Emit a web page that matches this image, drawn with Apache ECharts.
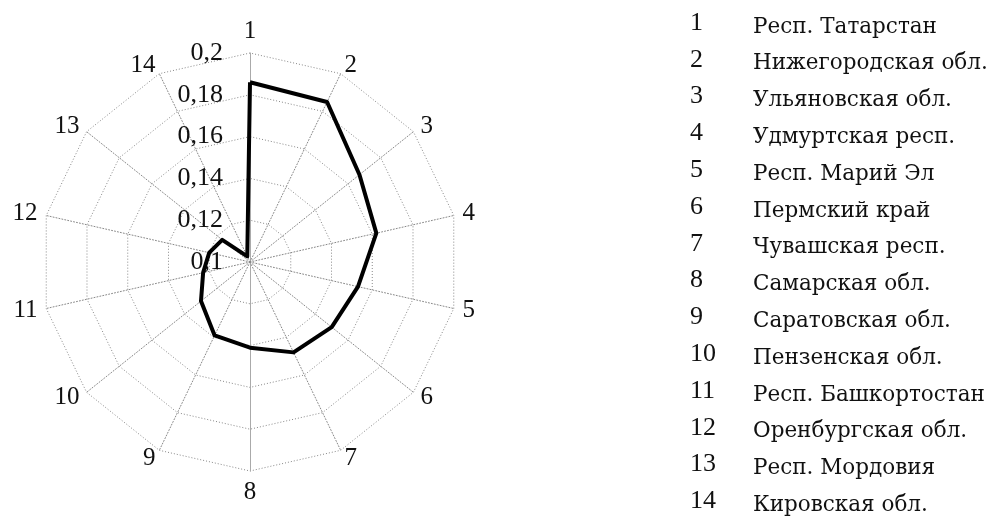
<!DOCTYPE html>
<html>
<head>
<meta charset="utf-8">
<script src="https://cdn.jsdelivr.net/npm/echarts@6/dist/echarts.min.js"></script>
<style>
  html, body { margin: 0; padding: 0; background: #fff; }
  #main { width: 990px; height: 521px; }
</style>
</head>
<body>
<div id="main"></div>
<script>
// номера регионов и названия
var regionNums = ['1', '2', '3', '4', '5', '6', '7', '8', '9', '10', '11', '12', '13', '14']
var regionNames = [
  'Респ. Татарстан', 'Нижегородская обл.', 'Ульяновская обл.', 'Удмуртская респ.',
  'Респ. Марий Эл', 'Пермский край', 'Чувашская респ.', 'Самарская обл.',
  'Саратовская обл.', 'Пензенская обл.', 'Респ. Башкортостан', 'Оренбургская обл.',
  'Респ. Мордовия', 'Кировская обл.'
]
var values = [0.186, 0.185, 0.167, 0.162, 0.153, 0.150, 0.148, 0.141, 0.139, 0.130, 0.123, 0.120, 0.117, 0.103]
var axisMin = 0.1
var axisMax = 0.2
var splitNum = 5

var serif = '"Liberation Serif", "DejaVu Serif", serif'

// echarts рисует радар против часовой стрелки, поэтому порядок 1, 14, 13 ... 2
var order = [0]
for (var i = regionNums.length - 1; i > 0; i--) order.push(i)

var indicators = order.map(function (idx) {
  var ind = { name: regionNums[idx], min: axisMin, max: axisMax }
  if (idx === 0) {
    ind.axisLabel = { show: true }
  }
  // вертикальная ось сплошная
  if (idx === 0 || idx === 7) {
    ind.axisLine = { lineStyle: { type: 'solid', color: '#aaa' } }
  }
  return ind
})
var seriesData = order.map(function (idx) { return values[idx] })

// легенда справа
var legendItems = []
for (var k = 0; k < regionNames.length; k++) {
  var y = 30 + k * 36.8
  legendItems.push({
    type: 'text', left: 690, top: y - 20,
    style: { text: regionNums[k], font: '26px ' + serif, fill: '#111' }
  })
  legendItems.push({
    type: 'text', left: 753, top: y - 14,
    style: { text: regionNames[k], font: '21.5px "DejaVu Serif", serif', fill: '#111' }
  })
}

var chart = echarts.init(document.getElementById('main'))
var option = {
  backgroundColor: '#fff',
  animation: false,
  radar: {
    center: [250, 262],
    radius: 209,
    startAngle: 90,
    splitNumber: splitNum,
    indicator: indicators,
    nameGap: 9,
    axisName: { color: '#111', fontSize: 25, fontFamily: serif },
    axisLine: { lineStyle: { color: '#888', type: [1, 2], width: 1 } },
    splitLine: { lineStyle: { color: '#888', type: [1, 2], width: 1 } },
    splitArea: { show: false },
    axisLabel: {
      show: false,
      color: '#111',
      fontSize: 26,
      fontFamily: serif,
      margin: 27,
      formatter: function (v) { return String(+(+v).toFixed(2)).replace('.', ',') }
    }
  },
  graphic: legendItems,
  series: [{
    type: 'radar',
    symbol: 'none',
    lineStyle: { color: '#000', width: 4 },
    data: [{ value: seriesData }]
  }]
}
chart.setOption(option)
</script>
</body>
</html>
